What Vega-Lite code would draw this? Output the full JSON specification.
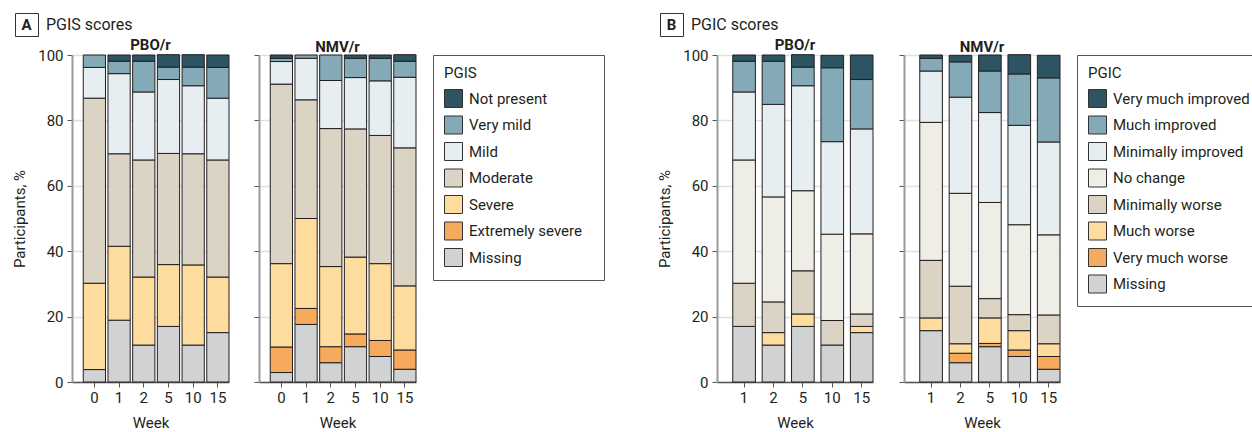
{
  "$schema": "https://vega.github.io/schema/vega-lite/v6.json",
  "padding": {"left": 12, "top": 12, "right": 0, "bottom": 0},
  "background": "white",
  "datasets": {
    "pgis": [
      {"arm": "PBO/r", "week": 0, "cat": "Missing", "ord": 0, "pct": 3.8},
      {"arm": "PBO/r", "week": 0, "cat": "Severe", "ord": 2, "pct": 26.4},
      {"arm": "PBO/r", "week": 0, "cat": "Moderate", "ord": 3, "pct": 56.6},
      {"arm": "PBO/r", "week": 0, "cat": "Mild", "ord": 4, "pct": 9.4},
      {"arm": "PBO/r", "week": 0, "cat": "Very mild", "ord": 5, "pct": 3.8},
      {"arm": "PBO/r", "week": 1, "cat": "Missing", "ord": 0, "pct": 18.9},
      {"arm": "PBO/r", "week": 1, "cat": "Severe", "ord": 2, "pct": 22.6},
      {"arm": "PBO/r", "week": 1, "cat": "Moderate", "ord": 3, "pct": 28.3},
      {"arm": "PBO/r", "week": 1, "cat": "Mild", "ord": 4, "pct": 24.5},
      {"arm": "PBO/r", "week": 1, "cat": "Very mild", "ord": 5, "pct": 3.8},
      {"arm": "PBO/r", "week": 1, "cat": "Not present", "ord": 6, "pct": 1.9},
      {"arm": "PBO/r", "week": 2, "cat": "Missing", "ord": 0, "pct": 11.3},
      {"arm": "PBO/r", "week": 2, "cat": "Severe", "ord": 2, "pct": 20.8},
      {"arm": "PBO/r", "week": 2, "cat": "Moderate", "ord": 3, "pct": 35.8},
      {"arm": "PBO/r", "week": 2, "cat": "Mild", "ord": 4, "pct": 20.8},
      {"arm": "PBO/r", "week": 2, "cat": "Very mild", "ord": 5, "pct": 9.4},
      {"arm": "PBO/r", "week": 2, "cat": "Not present", "ord": 6, "pct": 1.9},
      {"arm": "PBO/r", "week": 5, "cat": "Missing", "ord": 0, "pct": 17.0},
      {"arm": "PBO/r", "week": 5, "cat": "Severe", "ord": 2, "pct": 18.9},
      {"arm": "PBO/r", "week": 5, "cat": "Moderate", "ord": 3, "pct": 34.0},
      {"arm": "PBO/r", "week": 5, "cat": "Mild", "ord": 4, "pct": 22.6},
      {"arm": "PBO/r", "week": 5, "cat": "Very mild", "ord": 5, "pct": 3.8},
      {"arm": "PBO/r", "week": 5, "cat": "Not present", "ord": 6, "pct": 3.8},
      {"arm": "PBO/r", "week": 10, "cat": "Missing", "ord": 0, "pct": 11.3},
      {"arm": "PBO/r", "week": 10, "cat": "Severe", "ord": 2, "pct": 24.5},
      {"arm": "PBO/r", "week": 10, "cat": "Moderate", "ord": 3, "pct": 34.0},
      {"arm": "PBO/r", "week": 10, "cat": "Mild", "ord": 4, "pct": 20.8},
      {"arm": "PBO/r", "week": 10, "cat": "Very mild", "ord": 5, "pct": 5.7},
      {"arm": "PBO/r", "week": 10, "cat": "Not present", "ord": 6, "pct": 3.8},
      {"arm": "PBO/r", "week": 15, "cat": "Missing", "ord": 0, "pct": 15.1},
      {"arm": "PBO/r", "week": 15, "cat": "Severe", "ord": 2, "pct": 17.0},
      {"arm": "PBO/r", "week": 15, "cat": "Moderate", "ord": 3, "pct": 35.8},
      {"arm": "PBO/r", "week": 15, "cat": "Mild", "ord": 4, "pct": 18.9},
      {"arm": "PBO/r", "week": 15, "cat": "Very mild", "ord": 5, "pct": 9.4},
      {"arm": "PBO/r", "week": 15, "cat": "Not present", "ord": 6, "pct": 3.8},
      {"arm": "NMV/r", "week": 0, "cat": "Missing", "ord": 0, "pct": 2.9},
      {"arm": "NMV/r", "week": 0, "cat": "Extremely severe", "ord": 1, "pct": 7.8},
      {"arm": "NMV/r", "week": 0, "cat": "Severe", "ord": 2, "pct": 25.5},
      {"arm": "NMV/r", "week": 0, "cat": "Moderate", "ord": 3, "pct": 54.9},
      {"arm": "NMV/r", "week": 0, "cat": "Mild", "ord": 4, "pct": 6.9},
      {"arm": "NMV/r", "week": 0, "cat": "Very mild", "ord": 5, "pct": 1.0},
      {"arm": "NMV/r", "week": 0, "cat": "Not present", "ord": 6, "pct": 1.0},
      {"arm": "NMV/r", "week": 1, "cat": "Missing", "ord": 0, "pct": 17.6},
      {"arm": "NMV/r", "week": 1, "cat": "Extremely severe", "ord": 1, "pct": 4.9},
      {"arm": "NMV/r", "week": 1, "cat": "Severe", "ord": 2, "pct": 27.5},
      {"arm": "NMV/r", "week": 1, "cat": "Moderate", "ord": 3, "pct": 36.3},
      {"arm": "NMV/r", "week": 1, "cat": "Mild", "ord": 4, "pct": 12.7},
      {"arm": "NMV/r", "week": 1, "cat": "Very mild", "ord": 5, "pct": 1.0},
      {"arm": "NMV/r", "week": 2, "cat": "Missing", "ord": 0, "pct": 5.9},
      {"arm": "NMV/r", "week": 2, "cat": "Extremely severe", "ord": 1, "pct": 4.9},
      {"arm": "NMV/r", "week": 2, "cat": "Severe", "ord": 2, "pct": 24.5},
      {"arm": "NMV/r", "week": 2, "cat": "Moderate", "ord": 3, "pct": 42.2},
      {"arm": "NMV/r", "week": 2, "cat": "Mild", "ord": 4, "pct": 14.7},
      {"arm": "NMV/r", "week": 2, "cat": "Very mild", "ord": 5, "pct": 7.8},
      {"arm": "NMV/r", "week": 5, "cat": "Missing", "ord": 0, "pct": 10.8},
      {"arm": "NMV/r", "week": 5, "cat": "Extremely severe", "ord": 1, "pct": 3.9},
      {"arm": "NMV/r", "week": 5, "cat": "Severe", "ord": 2, "pct": 23.5},
      {"arm": "NMV/r", "week": 5, "cat": "Moderate", "ord": 3, "pct": 39.2},
      {"arm": "NMV/r", "week": 5, "cat": "Mild", "ord": 4, "pct": 15.7},
      {"arm": "NMV/r", "week": 5, "cat": "Very mild", "ord": 5, "pct": 5.9},
      {"arm": "NMV/r", "week": 5, "cat": "Not present", "ord": 6, "pct": 1.0},
      {"arm": "NMV/r", "week": 10, "cat": "Missing", "ord": 0, "pct": 7.8},
      {"arm": "NMV/r", "week": 10, "cat": "Extremely severe", "ord": 1, "pct": 4.9},
      {"arm": "NMV/r", "week": 10, "cat": "Severe", "ord": 2, "pct": 23.5},
      {"arm": "NMV/r", "week": 10, "cat": "Moderate", "ord": 3, "pct": 39.2},
      {"arm": "NMV/r", "week": 10, "cat": "Mild", "ord": 4, "pct": 16.7},
      {"arm": "NMV/r", "week": 10, "cat": "Very mild", "ord": 5, "pct": 6.9},
      {"arm": "NMV/r", "week": 10, "cat": "Not present", "ord": 6, "pct": 1.0},
      {"arm": "NMV/r", "week": 15, "cat": "Missing", "ord": 0, "pct": 3.9},
      {"arm": "NMV/r", "week": 15, "cat": "Extremely severe", "ord": 1, "pct": 5.9},
      {"arm": "NMV/r", "week": 15, "cat": "Severe", "ord": 2, "pct": 19.6},
      {"arm": "NMV/r", "week": 15, "cat": "Moderate", "ord": 3, "pct": 42.2},
      {"arm": "NMV/r", "week": 15, "cat": "Mild", "ord": 4, "pct": 21.6},
      {"arm": "NMV/r", "week": 15, "cat": "Very mild", "ord": 5, "pct": 4.9},
      {"arm": "NMV/r", "week": 15, "cat": "Not present", "ord": 6, "pct": 2.0}
    ],
    "pgic": [
      {"arm": "PBO/r", "week": 1, "cat": "Missing", "ord": 0, "pct": 17.0},
      {"arm": "PBO/r", "week": 1, "cat": "Minimally worse", "ord": 3, "pct": 13.2},
      {"arm": "PBO/r", "week": 1, "cat": "No change", "ord": 4, "pct": 37.7},
      {"arm": "PBO/r", "week": 1, "cat": "Minimally improved", "ord": 5, "pct": 20.8},
      {"arm": "PBO/r", "week": 1, "cat": "Much improved", "ord": 6, "pct": 9.4},
      {"arm": "PBO/r", "week": 1, "cat": "Very much improved", "ord": 7, "pct": 1.9},
      {"arm": "PBO/r", "week": 2, "cat": "Missing", "ord": 0, "pct": 11.3},
      {"arm": "PBO/r", "week": 2, "cat": "Much worse", "ord": 2, "pct": 3.8},
      {"arm": "PBO/r", "week": 2, "cat": "Minimally worse", "ord": 3, "pct": 9.4},
      {"arm": "PBO/r", "week": 2, "cat": "No change", "ord": 4, "pct": 32.1},
      {"arm": "PBO/r", "week": 2, "cat": "Minimally improved", "ord": 5, "pct": 28.3},
      {"arm": "PBO/r", "week": 2, "cat": "Much improved", "ord": 6, "pct": 13.2},
      {"arm": "PBO/r", "week": 2, "cat": "Very much improved", "ord": 7, "pct": 1.9},
      {"arm": "PBO/r", "week": 5, "cat": "Missing", "ord": 0, "pct": 17.0},
      {"arm": "PBO/r", "week": 5, "cat": "Much worse", "ord": 2, "pct": 3.8},
      {"arm": "PBO/r", "week": 5, "cat": "Minimally worse", "ord": 3, "pct": 13.2},
      {"arm": "PBO/r", "week": 5, "cat": "No change", "ord": 4, "pct": 24.5},
      {"arm": "PBO/r", "week": 5, "cat": "Minimally improved", "ord": 5, "pct": 32.1},
      {"arm": "PBO/r", "week": 5, "cat": "Much improved", "ord": 6, "pct": 5.7},
      {"arm": "PBO/r", "week": 5, "cat": "Very much improved", "ord": 7, "pct": 3.8},
      {"arm": "PBO/r", "week": 10, "cat": "Missing", "ord": 0, "pct": 11.3},
      {"arm": "PBO/r", "week": 10, "cat": "Minimally worse", "ord": 3, "pct": 7.5},
      {"arm": "PBO/r", "week": 10, "cat": "No change", "ord": 4, "pct": 26.4},
      {"arm": "PBO/r", "week": 10, "cat": "Minimally improved", "ord": 5, "pct": 28.3},
      {"arm": "PBO/r", "week": 10, "cat": "Much improved", "ord": 6, "pct": 22.6},
      {"arm": "PBO/r", "week": 10, "cat": "Very much improved", "ord": 7, "pct": 3.8},
      {"arm": "PBO/r", "week": 15, "cat": "Missing", "ord": 0, "pct": 15.1},
      {"arm": "PBO/r", "week": 15, "cat": "Much worse", "ord": 2, "pct": 1.9},
      {"arm": "PBO/r", "week": 15, "cat": "Minimally worse", "ord": 3, "pct": 3.8},
      {"arm": "PBO/r", "week": 15, "cat": "No change", "ord": 4, "pct": 24.5},
      {"arm": "PBO/r", "week": 15, "cat": "Minimally improved", "ord": 5, "pct": 32.1},
      {"arm": "PBO/r", "week": 15, "cat": "Much improved", "ord": 6, "pct": 15.1},
      {"arm": "PBO/r", "week": 15, "cat": "Very much improved", "ord": 7, "pct": 7.5},
      {"arm": "NMV/r", "week": 1, "cat": "Missing", "ord": 0, "pct": 15.7},
      {"arm": "NMV/r", "week": 1, "cat": "Much worse", "ord": 2, "pct": 3.9},
      {"arm": "NMV/r", "week": 1, "cat": "Minimally worse", "ord": 3, "pct": 17.6},
      {"arm": "NMV/r", "week": 1, "cat": "No change", "ord": 4, "pct": 42.2},
      {"arm": "NMV/r", "week": 1, "cat": "Minimally improved", "ord": 5, "pct": 15.7},
      {"arm": "NMV/r", "week": 1, "cat": "Much improved", "ord": 6, "pct": 3.9},
      {"arm": "NMV/r", "week": 1, "cat": "Very much improved", "ord": 7, "pct": 1.0},
      {"arm": "NMV/r", "week": 2, "cat": "Missing", "ord": 0, "pct": 5.9},
      {"arm": "NMV/r", "week": 2, "cat": "Very much worse", "ord": 1, "pct": 2.9},
      {"arm": "NMV/r", "week": 2, "cat": "Much worse", "ord": 2, "pct": 2.9},
      {"arm": "NMV/r", "week": 2, "cat": "Minimally worse", "ord": 3, "pct": 17.6},
      {"arm": "NMV/r", "week": 2, "cat": "No change", "ord": 4, "pct": 28.4},
      {"arm": "NMV/r", "week": 2, "cat": "Minimally improved", "ord": 5, "pct": 29.4},
      {"arm": "NMV/r", "week": 2, "cat": "Much improved", "ord": 6, "pct": 10.8},
      {"arm": "NMV/r", "week": 2, "cat": "Very much improved", "ord": 7, "pct": 2.0},
      {"arm": "NMV/r", "week": 5, "cat": "Missing", "ord": 0, "pct": 10.8},
      {"arm": "NMV/r", "week": 5, "cat": "Very much worse", "ord": 1, "pct": 1.0},
      {"arm": "NMV/r", "week": 5, "cat": "Much worse", "ord": 2, "pct": 7.8},
      {"arm": "NMV/r", "week": 5, "cat": "Minimally worse", "ord": 3, "pct": 5.9},
      {"arm": "NMV/r", "week": 5, "cat": "No change", "ord": 4, "pct": 29.4},
      {"arm": "NMV/r", "week": 5, "cat": "Minimally improved", "ord": 5, "pct": 27.5},
      {"arm": "NMV/r", "week": 5, "cat": "Much improved", "ord": 6, "pct": 12.7},
      {"arm": "NMV/r", "week": 5, "cat": "Very much improved", "ord": 7, "pct": 4.9},
      {"arm": "NMV/r", "week": 10, "cat": "Missing", "ord": 0, "pct": 7.8},
      {"arm": "NMV/r", "week": 10, "cat": "Very much worse", "ord": 1, "pct": 2.0},
      {"arm": "NMV/r", "week": 10, "cat": "Much worse", "ord": 2, "pct": 5.9},
      {"arm": "NMV/r", "week": 10, "cat": "Minimally worse", "ord": 3, "pct": 4.9},
      {"arm": "NMV/r", "week": 10, "cat": "No change", "ord": 4, "pct": 27.5},
      {"arm": "NMV/r", "week": 10, "cat": "Minimally improved", "ord": 5, "pct": 30.4},
      {"arm": "NMV/r", "week": 10, "cat": "Much improved", "ord": 6, "pct": 15.7},
      {"arm": "NMV/r", "week": 10, "cat": "Very much improved", "ord": 7, "pct": 5.9},
      {"arm": "NMV/r", "week": 15, "cat": "Missing", "ord": 0, "pct": 3.9},
      {"arm": "NMV/r", "week": 15, "cat": "Very much worse", "ord": 1, "pct": 3.9},
      {"arm": "NMV/r", "week": 15, "cat": "Much worse", "ord": 2, "pct": 3.9},
      {"arm": "NMV/r", "week": 15, "cat": "Minimally worse", "ord": 3, "pct": 8.8},
      {"arm": "NMV/r", "week": 15, "cat": "No change", "ord": 4, "pct": 24.5},
      {"arm": "NMV/r", "week": 15, "cat": "Minimally improved", "ord": 5, "pct": 28.4},
      {"arm": "NMV/r", "week": 15, "cat": "Much improved", "ord": 6, "pct": 19.6},
      {"arm": "NMV/r", "week": 15, "cat": "Very much improved", "ord": 7, "pct": 6.9}
    ]
  },
  "config": {
    "font": "Roboto",
    "view": {"stroke": null},
    "title": {"font": "Roboto", "fontSize": 15, "fontWeight": "bold", "color": "#231f20", "offset": -5, "frame": "group"},
    "axis": {"labelFont": "Roboto", "titleFont": "Roboto", "labelFontSize": 15, "titleFontSize": 15, "titleFontWeight": "normal", "labelColor": "#231f20", "titleColor": "#231f20", "tickSize": 5},
    "axisX": {"labelAngle": 0, "domainColor": "#555555", "tickColor": "#555555", "domainWidth": 1.5, "labelPadding": 3, "titlePadding": 10, "grid": false},
    "axisY": {"grid": true, "gridColor": "#e0e0e0", "gridWidth": 1.5, "domainColor": "#9a9a9a", "domainWidth": 2, "tickColor": "#555555", "labelPadding": 4, "titlePadding": 10},
    "legend": {"orient": "right", "offset": 17, "strokeColor": "#555555", "padding": 11, "titleFont": "Roboto", "labelFont": "Roboto", "titleFontSize": 15, "titleFontWeight": "normal", "labelFontSize": 15, "titleColor": "#231f20", "labelColor": "#231f20", "symbolType": "square", "symbolSize": 324, "symbolStrokeWidth": 1, "symbolStrokeColor": "#333333", "rowPadding": 3.5, "titlePadding": 8, "labelOffset": 6}
  },
  "resolve": {"scale": {"color": "independent", "shape": "independent", "strokeDash": "independent"}, "legend": {"color": "independent", "shape": "independent", "strokeDash": "independent"}},
  "spacing": 52,
  "hconcat": [
    {
      "spacing": 1,
      "resolve": {"scale": {"color": "independent", "shape": "independent", "strokeDash": "independent"}, "legend": {"color": "independent", "shape": "independent", "strokeDash": "independent"}},
      "vconcat": [
        {
          "width": 22, "height": 22,
          "data": {"values": [{"t": "A", "s": "PGIS scores"}]},
          "mark": {"type": "point", "opacity": 0},
          "encoding": {
            "shape": {"field": "t", "type": "nominal", "legend": {"orient": "left", "title": null, "offset": 34, "padding": 2, "strokeColor": "#333333", "symbolSize": 324, "symbolOpacity": 0, "symbolStrokeWidth": 1, "labelFontWeight": "bold", "labelFontSize": 15, "labelAlign": "center", "labelOffset": -9.5, "rowPadding": 0}},
            "strokeDash": {"field": "s", "type": "nominal", "legend": {"orient": "right", "title": null, "offset": -50, "padding": 2, "strokeColor": "transparent", "symbolSize": 324, "symbolOpacity": 0, "symbolStrokeWidth": 1, "labelFontSize": 16, "labelOffset": -19, "rowPadding": 0}}
          }
        },
        {
          "spacing": 23,
          "resolve": {"scale": {"color": "independent"}},
          "hconcat": [
            {
              "data": {"name": "pgis"},
              "transform": [{"filter": "datum.arm === 'PBO/r'"}],
              "width": 157, "height": 327,
              "title": "PBO/r",
              "mark": {"type": "bar", "stroke": "#231f20", "strokeWidth": 1},
              "encoding": {
                "x": {"field": "week", "type": "ordinal", "title": "Week", "scale": {"paddingInner": 0.1, "paddingOuter": 0.228, "align": 1}},
                "y": {"field": "pct", "type": "quantitative", "stack": "zero", "title": "Participants, %", "scale": {"domain": [0, 100], "nice": false}, "axis": {"values": [0, 20, 40, 60, 80, 100]}},
                "color": {"field": "cat", "type": "nominal", "legend": null,
                  "scale": {"domain": ["Not present", "Very mild", "Mild", "Moderate", "Severe", "Extremely severe", "Missing"], "range": ["#2d5463", "#84aab8", "#e6eef2", "#dbd3c4", "#fedc9d", "#f6aa5c", "#d1d2d4"]}},
                "order": {"field": "ord", "type": "quantitative"}
              }
            },
            {
              "data": {"name": "pgis"},
              "transform": [{"filter": "datum.arm === 'NMV/r'"}],
              "width": 157, "height": 327,
              "title": {"text": "NMV/r", "offset": -1},
              "mark": {"type": "bar", "stroke": "#231f20", "strokeWidth": 1},
              "encoding": {
                "x": {"field": "week", "type": "ordinal", "title": "Week", "scale": {"paddingInner": 0.1, "paddingOuter": 0.228, "align": 1}},
                "y": {"field": "pct", "type": "quantitative", "stack": "zero", "title": null, "scale": {"domain": [0, 100], "nice": false}, "axis": {"values": [0, 20, 40, 60, 80, 100], "labels": false}},
                "color": {"field": "cat", "type": "nominal", "title": "PGIS",
                  "legend": {"labelExpr": "datum.label + '\u2800'"},
                  "scale": {"domain": ["Not present", "Very mild", "Mild", "Moderate", "Severe", "Extremely severe", "Missing"], "range": ["#2d5463", "#84aab8", "#e6eef2", "#dbd3c4", "#fedc9d", "#f6aa5c", "#d1d2d4"]}},
                "order": {"field": "ord", "type": "quantitative"}
              }
            }
          ]
        }
      ]
    },
    {
      "spacing": 1,
      "resolve": {"scale": {"color": "independent", "shape": "independent", "strokeDash": "independent"}, "legend": {"color": "independent", "shape": "independent", "strokeDash": "independent"}},
      "vconcat": [
        {
          "width": 22, "height": 22,
          "data": {"values": [{"t": "B", "s": "PGIC scores"}]},
          "mark": {"type": "point", "opacity": 0},
          "encoding": {
            "shape": {"field": "t", "type": "nominal", "legend": {"orient": "left", "title": null, "offset": 34, "padding": 2, "strokeColor": "#333333", "symbolSize": 324, "symbolOpacity": 0, "symbolStrokeWidth": 1, "labelFontWeight": "bold", "labelFontSize": 15, "labelAlign": "center", "labelOffset": -9.5, "rowPadding": 0}},
            "strokeDash": {"field": "s", "type": "nominal", "legend": {"orient": "right", "title": null, "offset": -50, "padding": 2, "strokeColor": "transparent", "symbolSize": 324, "symbolOpacity": 0, "symbolStrokeWidth": 1, "labelFontSize": 16, "labelOffset": -19, "rowPadding": 0}}
          }
        },
        {
          "spacing": 24,
          "resolve": {"scale": {"color": "independent"}},
          "hconcat": [
            {
              "data": {"name": "pgic"},
              "transform": [{"filter": "datum.arm === 'PBO/r'"}],
              "width": 156, "height": 327,
              "title": "PBO/r",
              "mark": {"type": "bar", "stroke": "#231f20", "strokeWidth": 1},
              "encoding": {
                "x": {"field": "week", "type": "ordinal", "title": "Week", "scale": {"paddingInner": 0.23, "paddingOuter": 0.268, "align": 1}},
                "y": {"field": "pct", "type": "quantitative", "stack": "zero", "title": "Participants, %", "scale": {"domain": [0, 100], "nice": false}, "axis": {"values": [0, 20, 40, 60, 80, 100]}},
                "color": {"field": "cat", "type": "nominal", "legend": null,
                  "scale": {"domain": ["Very much improved", "Much improved", "Minimally improved", "No change", "Minimally worse", "Much worse", "Very much worse", "Missing"], "range": ["#2d5463", "#84aab8", "#e6eef2", "#eeede6", "#dbd3c4", "#fedc9d", "#f6aa5c", "#d1d2d4"]}},
                "order": {"field": "ord", "type": "quantitative"}
              }
            },
            {
              "data": {"name": "pgic"},
              "transform": [{"filter": "datum.arm === 'NMV/r'"}],
              "width": 156, "height": 327,
              "title": {"text": "NMV/r", "offset": -1},
              "mark": {"type": "bar", "stroke": "#231f20", "strokeWidth": 1},
              "encoding": {
                "x": {"field": "week", "type": "ordinal", "title": "Week", "scale": {"paddingInner": 0.23, "paddingOuter": 0.268, "align": 1}},
                "y": {"field": "pct", "type": "quantitative", "stack": "zero", "title": null, "scale": {"domain": [0, 100], "nice": false}, "axis": {"values": [0, 20, 40, 60, 80, 100], "labels": false}},
                "color": {"field": "cat", "type": "nominal", "title": "PGIC",
                  "scale": {"domain": ["Very much improved", "Much improved", "Minimally improved", "No change", "Minimally worse", "Much worse", "Very much worse", "Missing"], "range": ["#2d5463", "#84aab8", "#e6eef2", "#eeede6", "#dbd3c4", "#fedc9d", "#f6aa5c", "#d1d2d4"]}},
                "order": {"field": "ord", "type": "quantitative"}
              }
            }
          ]
        }
      ]
    }
  ]
}
